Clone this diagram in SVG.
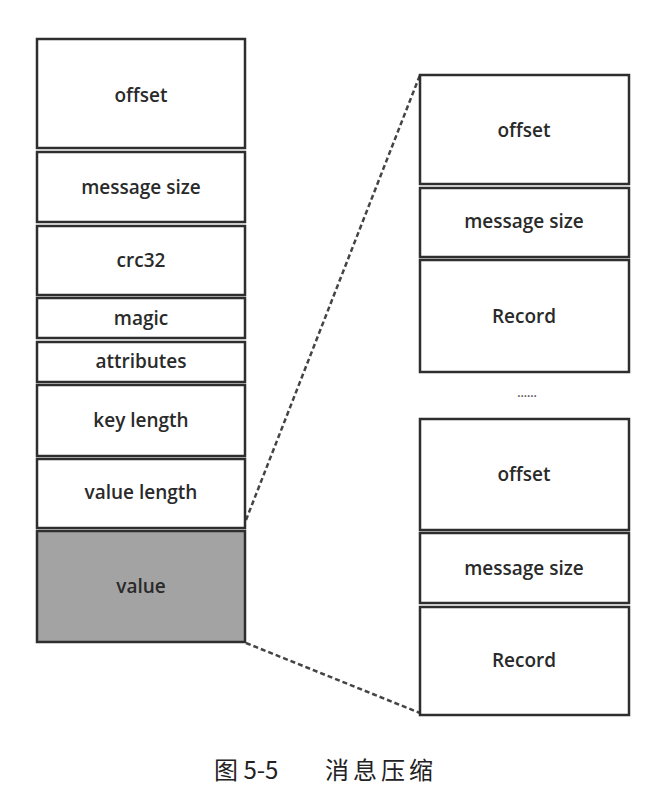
<svg xmlns="http://www.w3.org/2000/svg" width="656" height="804" viewBox="0 0 656 804">
<style>
.box{fill:#fff;stroke:#2e2e2e;stroke-width:2.5}
.dark{fill:#a3a3a3;stroke:#2e2e2e;stroke-width:2.5}
.lbl{font-family:"Open Sans","Noto Sans",sans-serif;font-size:19px;font-weight:600;fill:#2a2a2a;text-anchor:middle;dominant-baseline:central}
.dash{fill:none;stroke:#444;stroke-width:2.5;stroke-dasharray:5 3}
.cap{font-family:"Noto Sans CJK SC",sans-serif;font-size:24px;font-weight:400;fill:#222}
</style>
<rect width="656" height="804" fill="#fff"/>
<g id="connectors">
<line class="dash" x1="246" y1="520" x2="420" y2="75"/>
<line class="dash" x1="246" y1="643" x2="420" y2="713"/>
</g>
<g id="left-offset"><rect class="box" x="37" y="39" width="208" height="109"/><text class="lbl" x="141" y="95">offset</text></g>
<g id="left-message-size"><rect class="box" x="37" y="152" width="208" height="70"/><text class="lbl" x="141" y="187">message size</text></g>
<g id="left-crc32"><rect class="box" x="37" y="226" width="208" height="69"/><text class="lbl" x="141" y="260">crc32</text></g>
<g id="left-magic"><rect class="box" x="37" y="298" width="208" height="40"/><text class="lbl" x="141" y="318">magic</text></g>
<g id="left-attributes"><rect class="box" x="37" y="342" width="208" height="40"/><text class="lbl" x="141" y="361">attributes</text></g>
<g id="left-key-length"><rect class="box" x="37" y="385" width="208" height="71"/><text class="lbl" x="141" y="420">key length</text></g>
<g id="left-value-length"><rect class="box" x="37" y="459" width="208" height="69"/><text class="lbl" x="141" y="492">value length</text></g>
<g id="left-value"><rect class="dark" x="37" y="531" width="208" height="111"/><text class="lbl" x="141" y="586">value</text></g>
<g id="r1-offset"><rect class="box" x="420" y="75" width="209" height="109"/><text class="lbl" x="524" y="130">offset</text></g>
<g id="r1-message-size"><rect class="box" x="420" y="188" width="209" height="69"/><text class="lbl" x="524" y="221">message size</text></g>
<g id="r1-record"><rect class="box" x="420" y="260" width="209" height="112"/><text class="lbl" x="524" y="316">Record</text></g>
<g id="ellipsis"><text class="lbl" x="527" y="392" style="font-size:12px;fill:#555">……</text></g>
<g id="r2-offset"><rect class="box" x="420" y="419" width="209" height="111"/><text class="lbl" x="524" y="474">offset</text></g>
<g id="r2-message-size"><rect class="box" x="420" y="533" width="209" height="70"/><text class="lbl" x="524" y="568">message size</text></g>
<g id="r2-record"><rect class="box" x="420" y="607" width="209" height="108"/><text class="lbl" x="524" y="660">Record</text></g>
<g id="caption"><text class="cap" x="214" y="779">图 5-5</text><text class="cap" x="325" y="779" letter-spacing="4">消息压缩</text></g>
</svg>
